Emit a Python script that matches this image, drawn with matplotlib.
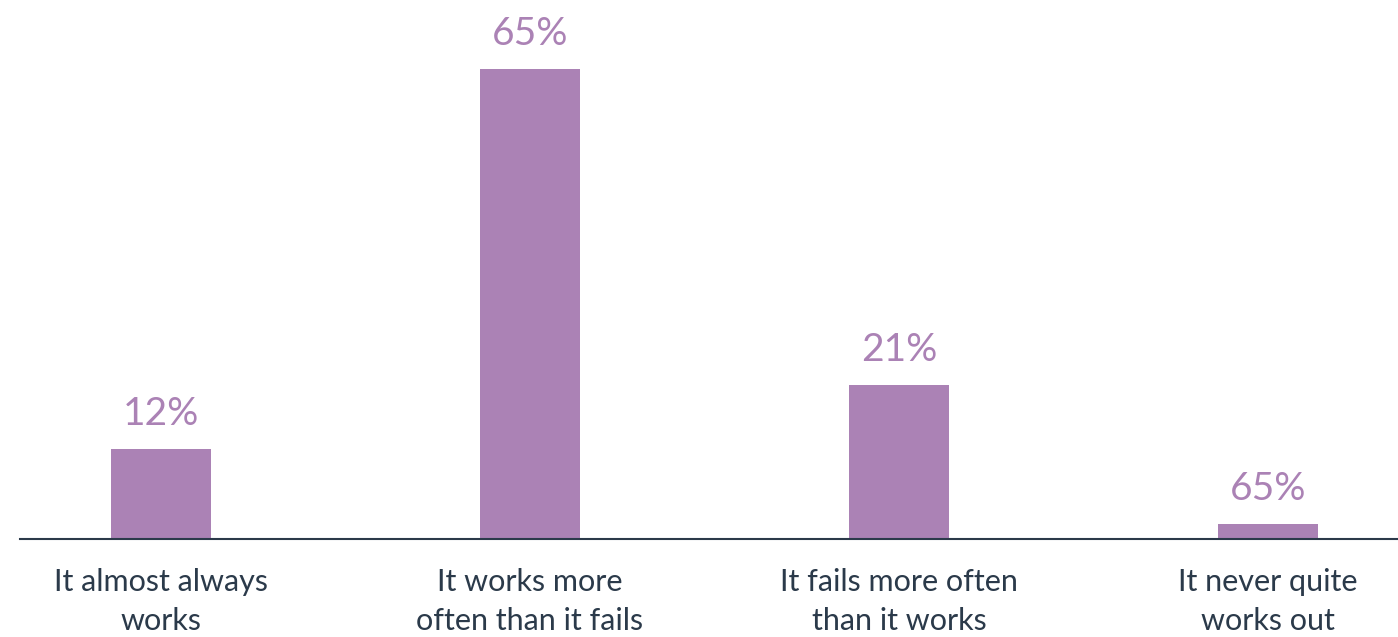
import matplotlib.pyplot as plt

# chart data
categories = ["It almost always\nworks", "It works more\noften than it fails",
              "It fails more often\nthan it works", "It never quite\nworks out"]
values = [12.4, 65, 21.3, 2]
value_labels = ["12%", "65%", "21%", "65%"]

bar_color = "#ab82b5"
text_color = "#2b3a4a"

plt.rcParams['font.family'] = ['Lato', 'DejaVu Sans']

fig = plt.figure(figsize=(13.98, 6.37), dpi=100)
ax = fig.add_axes([20 / 1398, 98.5 / 637, 1 - 20 / 1398, 538.5 / 637])

x = range(len(categories))
ax.bar(x, values, width=0.271, color=bar_color)

# value labels above each bar
for xi, v, lab in zip(x, values, value_labels):
    ax.annotate(lab, (xi, v), xytext=(0, 17), textcoords='offset pixels',
                ha='center', va='bottom', fontsize=28, color=bar_color)

ax.set_xlim(-0.382, 3.352)
ax.set_ylim(0, 74.6)
ax.set_xticks(list(x))
ax.set_xticklabels(categories, fontsize=22, color=text_color, linespacing=1.5)
ax.tick_params(axis='x', length=0, pad=21)
ax.set_yticks([])

for s in ['top', 'right', 'left']:
    ax.spines[s].set_visible(False)
ax.spines['bottom'].set_color(text_color)
ax.spines['bottom'].set_linewidth(1.5)

fig.savefig("out.png", dpi=100)
